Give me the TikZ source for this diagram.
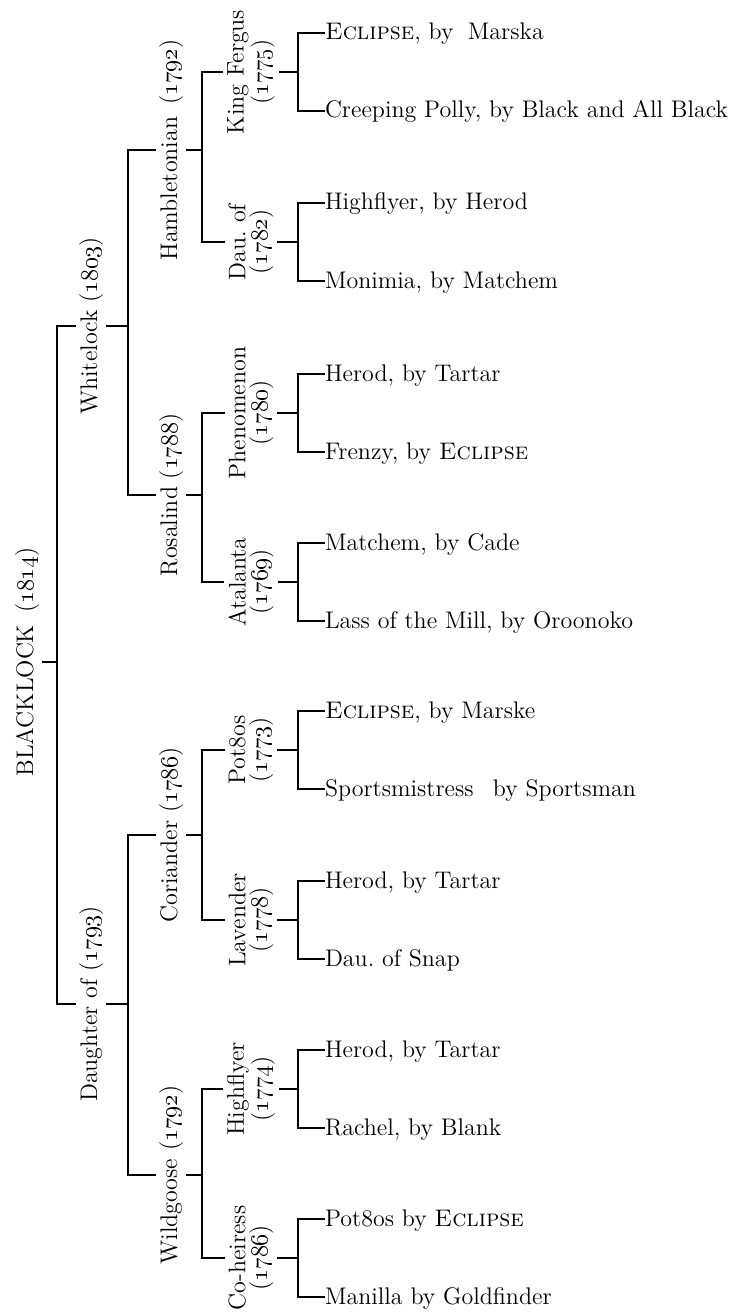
\documentclass[tikz,border=0pt]{standalone}
\newcommand{\yr}[1]{(\oldstylenums{#1})}
\newcommand{\brk}[4]{%
  \draw[ln] (#1.south) -- (#1.south -| #4);
  \draw[ln] (#2.north) -- (#2.north -| #4) -- (#3.north -| #4) -- (#3.north);}
\newcommand{\brkleaf}[4]{%
  \draw[ln] (#1.south) -- (#1.south -| #4);
  \draw[ln] (#2.west) -- (#2.west -| #4) -- (#3.west -| #4) -- (#3.west);}
\begin{document}
\begin{tikzpicture}[x=0.5pt,y=-0.5pt,
  lbl/.style={rotate=90,inner sep=0pt,outer sep=2pt,font=\fontsize{12}{13}\selectfont,text height=8.5pt,text depth=2.5pt,anchor=base},
  lbltwo/.style={rotate=90,inner sep=0pt,outer sep=2pt,font=\fontsize{12}{11}\selectfont,align=center},
  leaf/.style={anchor=west,inner sep=0pt,outer sep=0pt,font=\fontsize{12}{13}\selectfont,text height=7pt,text depth=0pt},
  ln/.style={line width=0.8pt}]
\useasboundingbox (0,0) rectangle (738,1316);
\coordinate (v0) at (57,0);
\coordinate (v1) at (128,0);
\coordinate (v2) at (202,0);
\coordinate (v3) at (298,0);
% level 0
\node[lbl] (n0) at (33,662) {BLACKLOCK\hspace{0.5em}\yr{1814}};
% level 1
\node[lbl] (n1) at (97,326) {Whitelock \yr{1803}};
\node[lbl] (n2) at (97,1004) {Daughter of \yr{1793}};
% level 2
\node[lbl] (n11) at (177,150) {Hambletonian\hspace{0.5em}\yr{1792}};
\node[lbl] (n12) at (177,495) {Rosalind \yr{1788}};
\node[lbl] (n21) at (177,835) {Coriander \yr{1786}};
\node[lbl] (n22) at (177,1175) {Wildgoose \yr{1792}};
% level 3
\node[lbltwo] (n111) at (251,72) {King Fergus\\\yr{1775}};
\node[lbltwo] (n112) at (251,242) {Dau.\ of\\\yr{1782}};
\node[lbltwo] (n121) at (251,413) {Phenomenon\\\yr{1780}};
\node[lbltwo] (n122) at (251,582) {Atalanta\\\yr{1769}};
\node[lbltwo] (n211) at (251,750) {Pot8os\\\yr{1773}};
\node[lbltwo] (n212) at (251,920) {Lavender\\\yr{1778}};
\node[lbltwo] (n221) at (251,1089) {Highflyer\\\yr{1774}};
\node[lbltwo] (n222) at (251,1258) {Co-heiress\\\yr{1786}};
% leaves
\node[leaf] (l1) at (325,33) {\textsc{Eclipse}, by\hspace{0.6em}Marska};
\node[leaf] (l2) at (325,111) {Creeping Polly, by Black and All Black};
\node[leaf] (l3) at (325,203) {Highflyer, by Herod};
\node[leaf] (l4) at (325,281) {Monimia, by Matchem};
\node[leaf] (l5) at (325,374) {Herod, by Tartar};
\node[leaf] (l6) at (325,452) {Frenzy, by \textsc{Eclipse}};
\node[leaf] (l7) at (325,543) {Matchem, by Cade};
\node[leaf] (l8) at (325,621) {Lass of the Mill, by Oroonoko};
\node[leaf] (l9) at (325,711) {\textsc{Eclipse}, by Marske};
\node[leaf] (l10) at (325,789) {Sportsmistress\hspace{0.8em}by Sportsman};
\node[leaf] (l11) at (325,881) {Herod, by Tartar};
\node[leaf] (l12) at (325,959) {Dau.\ of Snap};
\node[leaf] (l13) at (325,1050) {Herod, by Tartar};
\node[leaf] (l14) at (325,1128) {Rachel, by Blank};
\node[leaf] (l15) at (325,1219) {Pot8os by \textsc{Eclipse}};
\node[leaf] (l16) at (325,1297) {Manilla by Goldfinder};
% brackets
\brk{n0}{n1}{n2}{v0}
\brk{n1}{n11}{n12}{v1}
\brk{n2}{n21}{n22}{v1}
\brk{n11}{n111}{n112}{v2}
\brk{n12}{n121}{n122}{v2}
\brk{n21}{n211}{n212}{v2}
\brk{n22}{n221}{n222}{v2}
\brkleaf{n111}{l1}{l2}{v3}
\brkleaf{n112}{l3}{l4}{v3}
\brkleaf{n121}{l5}{l6}{v3}
\brkleaf{n122}{l7}{l8}{v3}
\brkleaf{n211}{l9}{l10}{v3}
\brkleaf{n212}{l11}{l12}{v3}
\brkleaf{n221}{l13}{l14}{v3}
\brkleaf{n222}{l15}{l16}{v3}
\end{tikzpicture}
\end{document}
